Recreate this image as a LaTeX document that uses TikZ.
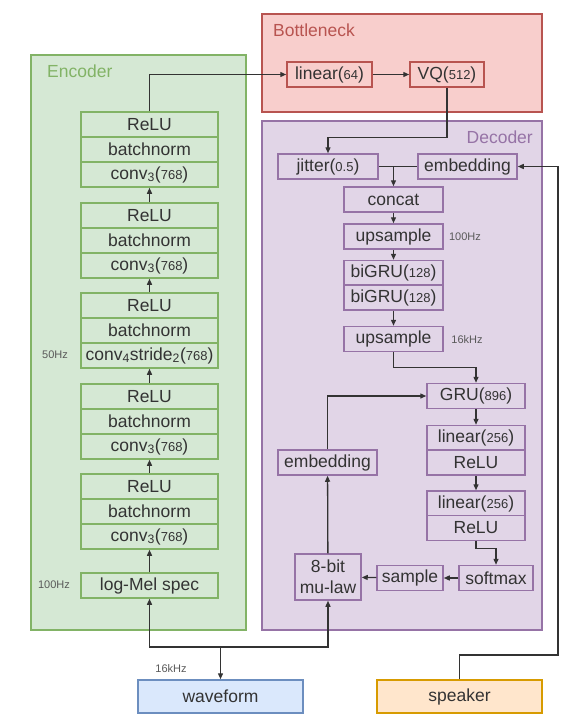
\documentclass[tikz,border=0pt]{standalone}
\usepackage{fontspec}
\setmainfont{Liberation Sans}
\usetikzlibrary{arrows.meta}
\usetikzlibrary{calc}

\definecolor{txt}{HTML}{333333}
\definecolor{encfill}{HTML}{D5E8D4}
\definecolor{encline}{HTML}{82B366}
\definecolor{botfill}{HTML}{F8CECC}
\definecolor{botline}{HTML}{B85450}
\definecolor{decfill}{HTML}{E1D5E7}
\definecolor{decline}{HTML}{9673A6}
\definecolor{wavfill}{HTML}{DAE8FC}
\definecolor{wavline}{HTML}{6C8EBF}
\definecolor{spkfill}{HTML}{FFE6CC}
\definecolor{spkline}{HTML}{D79B00}

\newcommand{\smallnum}[1]{{\fontsize{13}{14}\selectfont #1}}

\begin{document}
\begin{tikzpicture}[x=1pt,y=-1pt,
  box/.style={draw, line width=1.5pt, inner sep=0pt, minimum height=25pt, text=txt,
    font=\fontsize{17.5}{21}\selectfont, align=center},
  encbox/.style={box, draw=encline, fill=encfill, minimum width=137pt},
  botbox/.style={box, draw=botline, fill=botfill},
  decbox/.style={box, draw=decline, fill=decfill},
  title/.style={inner sep=0pt, font=\fontsize{17.5}{21}\selectfont},
  rate/.style={inner sep=0pt, text=black!65, font=\fontsize{11}{12}\selectfont},
  arr/.style={-{Triangle[length=6pt,width=5pt]}, line width=1.3pt, draw=txt},
  wire/.style={line width=1.3pt, draw=txt}]

\useasboundingbox (0,0) rectangle (581,720);

% regions
\filldraw[fill=encfill, draw=encline, line width=1.5pt] (31,55) rectangle (246,630);
\filldraw[fill=botfill, draw=botline, line width=1.5pt] (262,14) rectangle (542,112);
\filldraw[fill=decfill, draw=decline, line width=1.5pt] (262,121) rectangle (542,630);

\node[title, text=encline, anchor=west] (enctitle) at (47,71) {Encoder};
\node[title, text=botline, anchor=west] (bottitle) at (273,30) {Bottleneck};
\node[title, text=decline, anchor=east] (dectitle) at (533,137) {Decoder};

% encoder
\foreach \g/\y/\lab in {1/112/{conv\textsubscript{3}(\smallnum{768})},
                        2/203/{conv\textsubscript{3}(\smallnum{768})},
                        3/293/{conv\textsubscript{4}stride\textsubscript{2}(\smallnum{768})},
                        4/384/{conv\textsubscript{3}(\smallnum{768})},
                        5/474/{conv\textsubscript{3}(\smallnum{768})}}
{
\node[encbox] (relu\g) at (149.5,\y+12.5) {ReLU};
\node[encbox] (bn\g) at (149.5,\y+37.5) {batchnorm};
\node[encbox] (conv\g) at (149.5,\y+62.5) {\lab};
}
\node[encbox] (logmel) at (149.5,585.5) {log-Mel spec};

\foreach \a/\b in {2/1, 3/2, 4/3, 5/4}
{
\draw[arr] (relu\a.north) -- (conv\b.south);
}
\draw[arr] (logmel.north) -- (conv5.south);

\node[rate] (rate50) at (55,355) {50Hz};
\node[rate] (rate100) at (54,585) {100Hz};

% bottleneck
\node[botbox, minimum width=85pt] (lin64) at (329.5,74.5) {linear(\smallnum{64})};
\node[botbox, minimum width=74pt] (vq) at (447,74.5) {VQ(\smallnum{512})};
\draw[arr] (relu1.north) |- (lin64.west);
\draw[arr] (lin64) -- (vq);

% decoder
\node[decbox, minimum width=100pt] (jitter) at (328,166.5) {jitter(\smallnum{0.5})};
\node[decbox, minimum width=99pt] (spkemb) at (467.5,166.5) {embedding};
\node[decbox, minimum width=99pt] (concat) at (393.5,199.5) {concat};
\node[decbox, minimum width=99pt] (up1) at (393.5,236.5) {upsample};
\node[decbox, minimum width=99pt] (bigru1) at (393.5,273) {biGRU(\smallnum{128})};
\node[decbox, minimum width=99pt] (bigru2) at (393.5,297.5) {biGRU(\smallnum{128})};
\node[decbox, minimum width=99pt] (up2) at (393.5,339) {upsample};
\node[decbox, minimum width=98pt] (gru) at (476,396) {GRU(\smallnum{896})};
\node[decbox, minimum width=98pt] (fc1) at (476,438) {linear(\smallnum{256})};
\node[decbox, minimum width=98pt] (fcrelu1) at (476,462.5) {ReLU};
\node[decbox, minimum width=98pt] (fc2) at (476,503.5) {linear(\smallnum{256})};
\node[decbox, minimum width=98pt] (fcrelu2) at (476,528) {ReLU};
\node[decbox, minimum width=74pt] (softmax) at (496,578) {softmax};
\node[decbox, minimum width=66pt] (sample) at (410,578) {sample};
\node[decbox, minimum width=66pt, minimum height=46pt] (mulaw) at (328,577) {8-bit\\mu-law};
\node[decbox, minimum width=99pt] (wavemb) at (327.5,462.5) {embedding};

\node[rate] (rate100b) at (465,237) {100Hz};
\node[rate] (rate16b) at (467,340) {16kHz};

\draw[arr] (vq.south) -- ++(0,50) -| (jitter.north);
\draw[wire] (jitter.east) -- (spkemb.west);
\draw[arr] (concat.north |- jitter.east) -- (concat.north);
\draw[arr] (concat) -- (up1);
\draw[arr] (up1) -- (bigru1);
\draw[arr] (bigru2) -- (up2);
\draw[arr] (up2.south) -- ++(0,15) -| (gru.north);
\draw[arr] (gru) -- (fc1);
\draw[arr] (fcrelu1) -- (fc2);
\draw[arr] (fcrelu2.south) -- ++(0,7) -| (softmax.north);
\draw[arr] (softmax) -- (sample);
\draw[arr] (sample) -- (mulaw);
\draw[arr] (mulaw) -- (wavemb);
\draw[arr] (wavemb.north) |- (gru.west);

% inputs
\node[box, draw=wavline, fill=wavfill, minimum width=165pt, minimum height=33pt] (wave) at (220.5,696.5) {waveform};
\node[box, draw=spkline, fill=spkfill, minimum width=165pt, minimum height=33pt] (spk) at (459.5,696.5) {speaker};
\node[rate] (rate16) at (171,669) {16kHz};

\coordinate (split) at (220.5,647);
\coordinate (spkturn) at (558,655);
\draw[arr] (split) -- (wave.north);
\draw[arr] (split) -| (logmel.south);
\draw[arr] (split) -| (mulaw.south);
\draw[arr] (spk.north) |- (spkturn) |- (spkemb.east);

\end{tikzpicture}
\end{document}
